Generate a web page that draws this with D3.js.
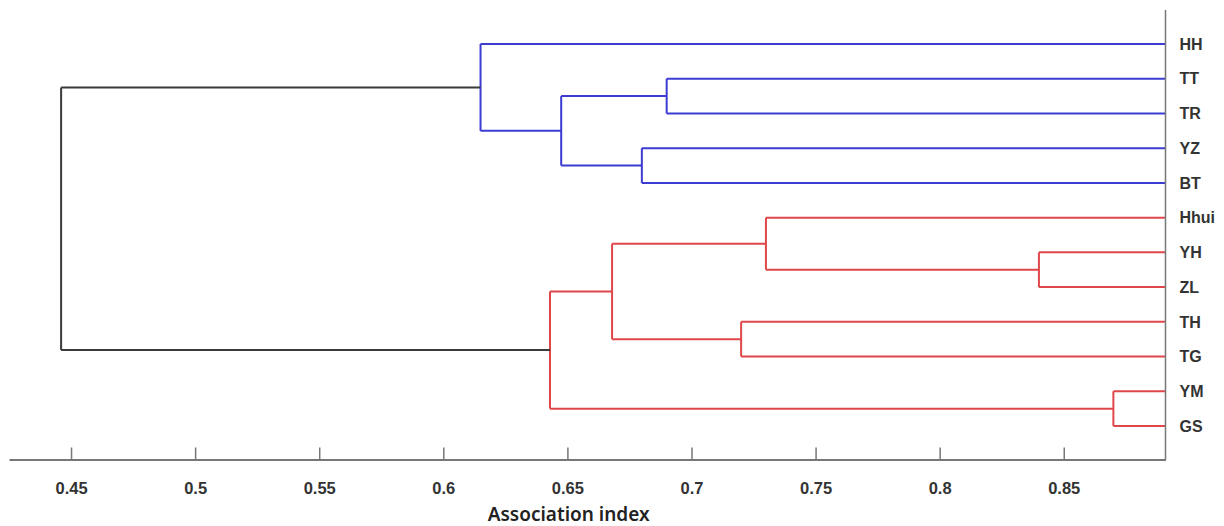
<!DOCTYPE html>
<html><head><meta charset="utf-8">
<script src="https://cdn.jsdelivr.net/npm/d3@7"></script>
<style>
html,body{margin:0;padding:0;background:#fff;}
svg{display:block;}
</style></head>
<body><svg id="chart" width="1224" height="526"></svg>
<script>
// Leaves, top to bottom
const leaves = ["HH","TT","TR","YZ","BT","Hhui","YH","ZL","TH","TG","YM","GS"];
// Linkage table: merge i creates node "m{i+1}"
const mergeA     = ["TT","YZ","m1","HH","YH","Hhui","TH","m6","YM","m8","m4"];
const mergeB     = ["TR","BT","m2","m3","ZL","m5","TG","m7","GS","m9","m10"];
const mergeValue = [0.690,0.680,0.6475,0.615,0.840,0.730,0.720,0.668,0.870,0.643,0.446];
const mergeGroup = ["blue","blue","blue","blue","red","red","red","red","red","red","root"];
const groupColors = {blue:"#3c3cd2", red:"#e0474a", root:"#3a3a3a"};
const xTicks = [0.45,0.5,0.55,0.6,0.65,0.7,0.75,0.8,0.85];
const xDomain = [0.425,0.891];
const xTitle = "Association index";

const svg = d3.select("#chart");
const x = d3.scaleLinear().domain(xDomain).range([9,1165.5]);
const yLeaf = d3.scalePoint().domain(leaves).range([44,426]);
const axisY = 459.5;

// node positions
const pos = {};
leaves.forEach(l => pos[l] = {v: xDomain[1], y: yLeaf(l)});
mergeA.forEach((a,i) => {
  const b = mergeB[i];
  pos["m"+(i+1)] = {v: mergeValue[i], y: (pos[a].y + pos[b].y)/2};
});

const g = svg.append("g").attr("fill","none").attr("stroke-width",2);
mergeA.forEach((a,i) => {
  const b = mergeB[i];
  const n = pos["m"+(i+1)];
  const c = groupColors[mergeGroup[i]];
  g.append("line").attr("x1",x(n.v)).attr("x2",x(n.v))
    .attr("y1",pos[a].y).attr("y2",pos[b].y).attr("stroke",c);
  [a,b].forEach(ch => {
    g.append("line").attr("x1",x(n.v)).attr("x2",x(pos[ch].v))
      .attr("y1",pos[ch].y).attr("y2",pos[ch].y).attr("stroke",c);
  });
});

// right vertical line
svg.append("line").attr("x1",x(xDomain[1])).attr("x2",x(xDomain[1]))
  .attr("y1",10).attr("y2",axisY).attr("stroke","#777").attr("stroke-width",1.5);

// leaf labels
svg.append("g").selectAll("text").data(leaves).join("text")
  .attr("x", x(xDomain[1]) + 14).attr("y", d => yLeaf(d)).attr("dy","0.36em")
  .attr("font-family","Liberation Sans, Arial, sans-serif").attr("font-weight","bold")
  .attr("font-size",16).attr("fill","#333").text(d => d);

// x axis
const axis = d3.axisBottom(x).tickValues(xTicks).tickFormat(d3.format("~g"))
  .tickSizeInner(-12).tickSizeOuter(0).tickPadding(23);
const ax = svg.append("g").attr("transform",`translate(0,${axisY})`).call(axis);
ax.select(".domain").attr("stroke","#777").attr("stroke-width",2);
ax.selectAll(".tick line").attr("stroke","#777").attr("stroke-width",1.5);
ax.selectAll(".tick text").attr("font-family","Liberation Sans, Arial, sans-serif")
  .attr("font-weight","bold").attr("font-size",16.5).attr("fill","#333");

svg.append("text").attr("x", x(0.6505)).attr("y", 521).attr("text-anchor","middle")
  .attr("font-family","Noto Sans, sans-serif").attr("font-weight",600)
  .attr("font-size",19).attr("fill","#222").text(xTitle);
</script></body></html>
